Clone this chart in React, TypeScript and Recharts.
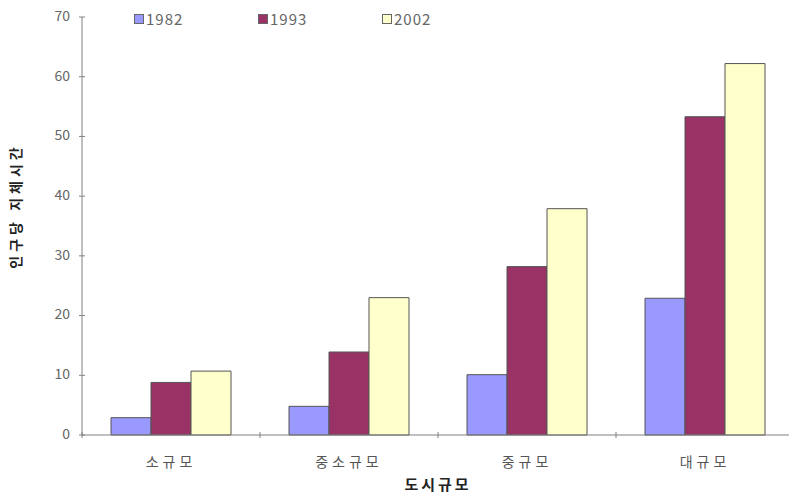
import React from 'react';
import { BarChart, Bar, XAxis, YAxis } from 'recharts';

// 도시규모별 인구당 지체시간
const sizes = ['소규모', '중소규모', '중규모', '대규모'];
const years = ['1982', '1993', '2002'];
const delay1982 = [2.9, 4.8, 10.1, 22.9];
const delay1993 = [8.8, 13.9, 28.2, 53.3];
const delay2002 = [10.7, 23.0, 37.9, 62.2];
const yTicks = [0, 10, 20, 30, 40, 50, 60, 70];

const COLORS: Record<string, string> = {
  '1982': '#9999FF',
  '1993': '#993366',
  '2002': '#FFFFCC',
};

const data = sizes.map((name, i) => ({
  name,
  '1982': delay1982[i],
  '1993': delay1993[i],
  '2002': delay2002[i],
}));

const CHART_W = 800;
const CHART_H = 500;
const MARGIN = { top: 17, right: 6, bottom: 35, left: 52 };
const Y_W = 30;
const PLOT_W = CHART_W - MARGIN.left - MARGIN.right - Y_W;
const HALF_BAND = PLOT_W / sizes.length / 2;

const FONT = '"Noto Sans CJK KR", "Liberation Sans", sans-serif';
const AXIS = '#808080';

// 카테고리 경계에 눈금, 가운데에 라벨
const XTick = (props: any) => {
  const { x, y, payload } = props;
  return (
    <g>
      <line x1={x - HALF_BAND} x2={x - HALF_BAND} y1={y - 3} y2={y + 3} stroke={AXIS} />
      <text x={x} y={y + 28} textAnchor="middle" dominantBaseline="middle"
        fontSize={14} letterSpacing={4} fill="#555" fontFamily={FONT}>
        {payload.value}
      </text>
    </g>
  );
};

const YTick = (props: any) => {
  const { x, y, payload } = props;
  return (
    <g>
      <line x1={x - 3} x2={x + 3} y1={y} y2={y} stroke={AXIS} />
      <text x={x - 12} y={y} textAnchor="end" dominantBaseline="middle"
        fontSize={14} fill="#666" fontFamily={FONT}>
        {payload.value}
      </text>
    </g>
  );
};

// 범례는 차트 위에 겹쳐서 배치 (플롯 영역을 줄이지 않도록)
const LegendBox = () => (
  <div style={{
    position: 'absolute', top: 8, left: 134, display: 'flex',
    fontFamily: FONT, fontSize: 15, color: '#666', letterSpacing: 1,
  }}>
    {years.map((y) => (
      <div key={y} style={{ display: 'flex', alignItems: 'center', width: 124 }}>
        <span style={{
          display: 'inline-block', width: 8, height: 8, marginRight: 2,
          background: COLORS[y], border: '1px solid #666',
        }} />
        {y}
      </div>
    ))}
  </div>
);

const App: React.FC = () => {
  return (
    <div style={{
      position: 'absolute', left: 0, top: 0, width: 789, height: 500,
      overflow: 'hidden', background: '#fff',
    }}>
      <BarChart width={CHART_W} height={CHART_H} data={data} margin={MARGIN}
        barCategoryGap={29} barGap={0}>
        <XAxis dataKey="name" height={30} stroke={AXIS} tickLine={false}
          tickSize={0} tickMargin={0} tick={<XTick />} interval={0}
          label={() => (
            <text x={438} y={486} textAnchor="middle" dominantBaseline="middle"
              fontSize={15} fontWeight="bold" letterSpacing={3} fill="#222" fontFamily={FONT}>
              도시규모
            </text>
          )} />
        <YAxis width={Y_W} domain={[0, 70]} ticks={yTicks} stroke={AXIS}
          tickLine={false} tickSize={0} tickMargin={0} tick={<YTick />} interval={0}
          label={() => (
            <text x={17} y={206} transform="rotate(-90 17 206)" textAnchor="middle"
              dominantBaseline="middle" fontSize={14} fontWeight="bold" letterSpacing={4}
              fill="#222" fontFamily={FONT}>
              인구당 지체시간
            </text>
          )} />
        {years.map((y) => (
          <Bar key={y} dataKey={y} fill={COLORS[y]} stroke="#555" strokeWidth={1}
            isAnimationActive={false} />
        ))}
      </BarChart>
      <LegendBox />
    </div>
  );
};

export default App;
